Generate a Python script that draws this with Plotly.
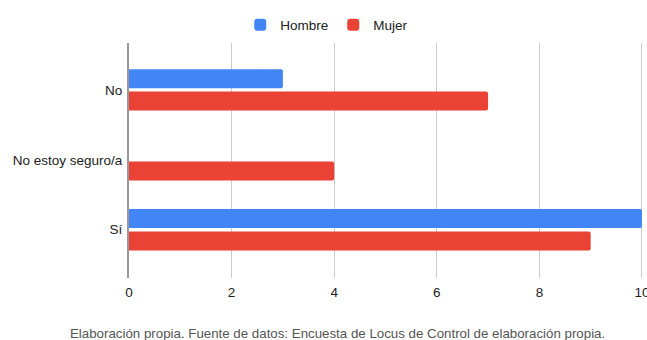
import plotly.graph_objects as go

categories = ["No", "No estoy seguro/a", "Sí"]
hombre = [3, 0, 10]
mujer = [7, 4, 9]
x_ticks = [0, 2, 4, 6, 8, 10]
footer = "Elaboración propia. Fuente de datos: Encuesta de Locus de Control de elaboración propia."

fig = go.Figure()
fig.add_trace(go.Bar(y=categories, x=hombre, name="Hombre", orientation="h",
                     marker=dict(color="#4285F4", line=dict(width=0))))
fig.add_trace(go.Bar(y=categories, x=mujer, name="Mujer", orientation="h",
                     marker=dict(color="#EA4335", line=dict(width=0))))

fig.update_layout(
    width=647, height=340,
    margin=dict(l=129, r=4, t=43, b=62, autoexpand=False),
    paper_bgcolor="white", plot_bgcolor="white",
    font=dict(family="Liberation Sans, Arial, sans-serif", size=13, color="#222222"),
    barmode="group", bargap=0.36, bargroupgap=0.15, barcornerradius=2,
    showlegend=True,
    legend=dict(orientation="h", x=0.505, xref="container", xanchor="center",
                y=0.972, yref="container", yanchor="top",
                font=dict(size=13.5, color="#222222"),
                itemwidth=30, traceorder="normal"),
    xaxis=dict(range=[0, 10.02], tickvals=x_ticks, ticktext=[str(v) for v in x_ticks],
               showgrid=True, gridcolor="#cccccc", gridwidth=1, zeroline=False,
               showline=False, ticks="", ticklabeloverflow="allow",
               ticklabelstandoff=4, automargin=False,
               tickfont=dict(size=13.5, color="#222222")),
    yaxis=dict(type="category", categoryorder="array", categoryarray=categories,
               range=[2.69, -0.67], showgrid=False, zeroline=False,
               showline=True, linecolor="#999999", linewidth=2, ticks="",
               ticklabelstandoff=2, automargin=False,
               tickfont=dict(size=13.5, color="#222222")),
    annotations=[dict(text=footer, x=(337 - 129) / 514, xref="paper", xanchor="center",
                      y=0, yref="paper", yanchor="middle", yshift=-55,
                      showarrow=False, font=dict(size=13.3, color="#555555"))],
)
fig.write_html("out.html")
